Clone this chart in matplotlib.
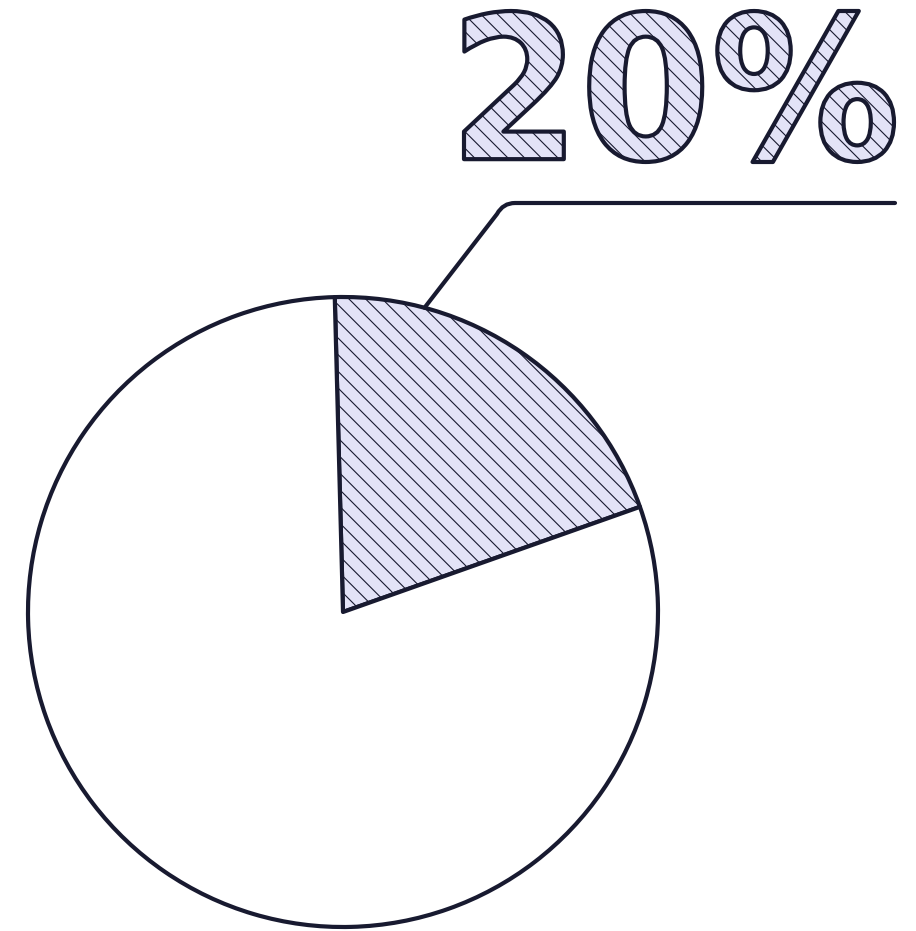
import matplotlib
matplotlib.use('Agg')
import matplotlib.pyplot as plt
from matplotlib.path import Path
from matplotlib.patches import PathPatch
from matplotlib.textpath import TextPath
from matplotlib.font_manager import FontProperties
from matplotlib.transforms import Affine2D
import numpy as np

# data
shares = [20, 80]
label = "20%"

W, H = 916, 931
ink = '#181a30'
lavender = '#e3e3f7'

plt.rcParams['hatch.linewidth'] = 0.8

fig = plt.figure(figsize=(W / 100, H / 100), dpi=100)
ax = fig.add_axes([0, 0, 1, 1])

# pie, pixel coords with y pointing up
cx, cy, r = 343, H - 612, 315
wedges, _ = ax.pie(shares, center=(cx, cy), radius=r, startangle=91.5,
                   counterclock=False, frame=True,
                   colors=[lavender, 'white'],
                   wedgeprops=dict(edgecolor=ink, linewidth=3.0,
                                   joinstyle='round'))
wedges[0].set_hatch('\\\\')
ax.set_xlim(0, W)
ax.set_ylim(0, H)
ax.axis('off')

# leader line from the slice edge to under the label
a = np.deg2rad(75)
x0, y0 = cx + r * np.cos(a), cy + r * np.sin(a)
verts = [(x0, y0), (497, H - 214), (503, H - 203), (515, H - 203), (895, H - 203)]
codes = [Path.MOVETO, Path.LINETO, Path.CURVE3, Path.CURVE3, Path.LINETO]
ax.add_patch(PathPatch(Path(verts, codes), fill=False, edgecolor=ink,
                       linewidth=3.0, capstyle='round', joinstyle='round'))

# big hatched outline label
fp = FontProperties(family='DejaVu Sans', weight='bold')
tp = TextPath((0, 0), label, size=100, prop=fp)
bb = tp.get_extents()
x_l, x_r, y_t, y_b = 464, 894, 11, 162
sx = (x_r - x_l) / bb.width
sy = (y_b - y_t) / bb.height
tr = Affine2D().translate(-bb.x0, -bb.y0).scale(sx, sy).translate(x_l, H - y_b)
tpath = tr.transform_path(tp)
ax.add_patch(PathPatch(tpath, facecolor=lavender, edgecolor=ink,
                       linewidth=3.0, joinstyle='round', hatch='\\\\'))

fig.savefig('out.png', dpi=100)
